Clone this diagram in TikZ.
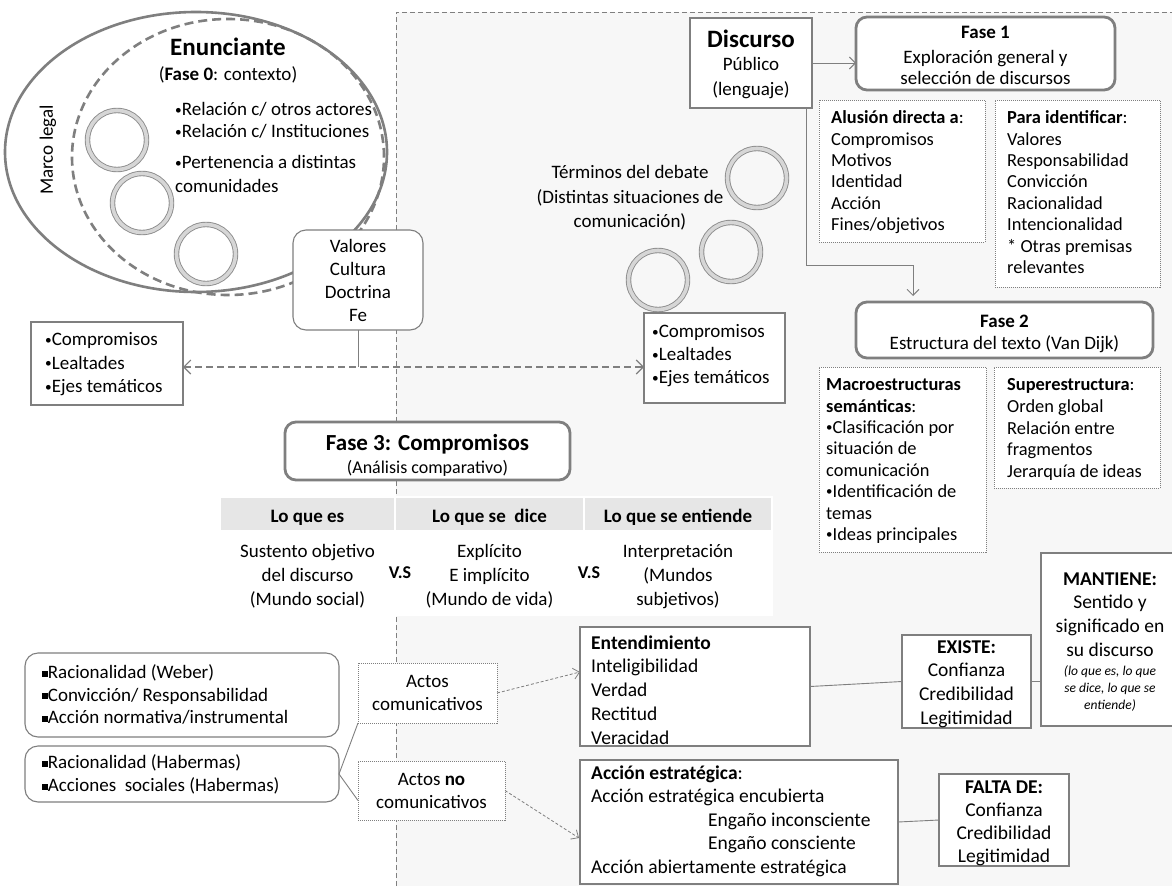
\documentclass[tikz,border=0pt]{standalone}
\usepackage{fontspec}
\usepackage{graphicx}
\setmainfont{Carlito}
\usetikzlibrary{arrows.meta,calc}
\definecolor{bd}{HTML}{7F7F7F}
\definecolor{rg}{HTML}{F7F7F7}
\definecolor{hd}{HTML}{E6E6E6}
\definecolor{ringc}{HTML}{D6D6D6}
\definecolor{ringd}{HTML}{8C8C8C}
\newcommand\fsz[2]{\fontsize{#1}{#2}\selectfont}
\newcommand\st{\rule{0pt}{0.8em}}
\newcommand\sqb{\rule[0.12em]{0.3em}{0.3em}}
\newcommand\bul{\raisebox{0.1em}{\scalebox{0.7}{•}}}
\newcommand\bx[6]{\node[#2, minimum width={(#5-#3)*1pt}, minimum height={(#6-#4)*1pt}] (#1) at ({(#3+#5)/2},{(#4+#6)/2}) {};}
\begin{document}
\begin{tikzpicture}[x=1pt,y=-1pt,
  boxplain/.style={draw=bd, line width=1.1pt, fill=white, inner sep=0, outer sep=0},
  boxround/.style={boxplain, rounded corners=13pt},
  boxdot/.style={draw=bd, line width=0.8pt, dash pattern=on 1pt off 1pt, fill=white, inner sep=0, outer sep=0},
  boxfase/.style={draw=bd, line width=2.8pt, rounded corners=11pt, fill=white, inner sep=0, outer sep=0},
  hdrcell/.style={fill=hd, draw=white, line width=1.5pt, inner sep=0, outer sep=0},
  bodycell/.style={fill=white, draw=white, line width=1.5pt, inner sep=0, outer sep=0},
  txl/.style={inner sep=0, anchor=north west, align=left},
  txc/.style={inner sep=0, anchor=north, align=center},
  ring/.style={circle, minimum size=59pt, inner sep=0, draw=ringd, line width=0.9pt, double=ringc, double distance=3.6pt},
  conn/.style={draw=bd, line width=0.9pt},
  arr/.style={conn, -{Straight Barb[length=6pt,width=12pt]}},
  darr/.style={draw=bd, line width=0.8pt, dash pattern=on 3pt off 2pt, -{Straight Barb[length=6pt,width=11pt]}},
  regdash/.style={draw=bd, line width=0.7pt, dash pattern=on 5pt off 3pt}
]
\useasboundingbox (0,0) rectangle (1172,886);
\fill[white] (0,0) rectangle (1172,886);
% region on the right
\fill[rg] (396,12) rectangle (1172,886);
\draw[regdash] (396,886) -- (396,12) -- (1172,12);

% ellipses
\draw[draw=bd, line width=2.6pt] (196,152) ellipse [x radius=191pt, y radius=140pt];
\draw[draw=bd, line width=2.6pt, dash pattern=on 9pt off 5pt] (228,157) ellipse [x radius=156pt, y radius=138pt];

% rings
\node[ring] (r1) at (117,140) {};
\node[ring] (r2) at (142,203) {};
\node[ring] (r3) at (206,254) {};
\node[ring] (r4) at (757,178) {};
\node[ring] (r5) at (731,252) {};
\node[ring] (r6) at (658,280) {};

% boxes
\bx{vl}{boxround}{293}{230}{423}{330}
\bx{lc}{boxplain}{31}{322}{183}{405}
\bx{rc}{boxplain}{644}{313}{785}{403}
\bx{ds}{boxplain}{690}{18}{812}{108}
\bx{f1}{boxfase}{856}{17}{1115}{90}
\bx{al}{boxdot}{819}{100}{985}{242}
\bx{pi}{boxdot}{995}{100}{1160}{287}
\bx{f2}{boxfase}{856}{302}{1153}{358}
\bx{ma}{boxdot}{819}{367}{986}{552}
\bx{su}{boxdot}{994}{367}{1160}{488}
\bx{f3}{boxfase}{285}{422}{570}{480}
\bx{h1}{hdrcell}{220}{497}{395}{531}
\bx{h2}{hdrcell}{395}{497}{584}{531}
\bx{h3}{hdrcell}{584}{497}{772}{531}
\bx{b1}{bodycell}{220}{531}{395}{615}
\bx{b2}{bodycell}{395}{531}{584}{615}
\bx{b3}{bodycell}{584}{531}{772}{615}
\bx{wb}{boxround}{25}{653}{339}{737}
\bx{hb}{boxround}{25}{746}{339}{802}
\bx{ac}{boxdot}{358}{663}{497}{723}
\bx{an}{boxdot}{358}{761}{505}{820}
\bx{en}{boxplain}{580}{627}{810}{746}
\bx{ae}{boxplain}{580}{760}{898}{884}
\bx{ex}{boxplain}{902}{635}{1031}{728}
\bx{mt}{boxplain}{1041}{553}{1179}{726}
\bx{fa}{boxplain}{939}{774}{1069}{866}

% connectors
\coordinate (mid) at (358,367);
\draw[conn] (vl.south) -- (mid);
\draw[draw=bd, line width=1.1pt, dash pattern=on 7pt off 4pt, {Straight Barb[length=7pt,width=14pt]}-{Straight Barb[length=7pt,width=14pt]}] (lc.east |- mid) -- (rc.west |- mid);
\draw[arr] (ds.east) -- (ds.east -| f1.west);
\draw[arr, shorten >=6pt] ($(ds.south east)+(-6,0)$) -- ++(0,157) -| ($(f2.north west)+(57,0)$);
\draw[conn] (hb.east) -- (ac.south west);
\draw[conn] (hb.east) -- ($(an.west)+(0,10)$);
\draw[darr] (ac.east) -- ($(en.north west)+(0,45)$);
\draw[darr] (an.east) -- ($(ae.north west)+(-1,78)$);
\draw[conn] (en.east) -- (ex.west);
\draw[conn] (ex.east) -- (ex.east -| mt.west);
\draw[conn] (ae.east) -- (fa.west);

% texts: Enunciante
\node[txc, font=\fsz{25}{30}\bfseries] (tEn) at (228,35.5) {\st Enunciante};
\node[txc, font=\fsz{19}{23.5}] (tF0) at (228,65.5) {\st(\textbf{Fase 0}: contexto)};
\node[txl, font=\fsz{19}{23.5}] (tEnb) at (175,100.5) {\st\bul Relación c/ otros actores\\[-1.5pt]\bul Relación c/ Instituciones\\[7.5pt]\bul Pertenencia a distintas\\[0.5pt]comunidades};
\node[font=\fsz{19}{23}, rotate=90, inner sep=0] (tML) at (48,150) {Marco legal};

\node[txc, font=\fsz{19}{23}] (tVl) at (358,237.5) {\st Valores\\Cultura\\Doctrina\\Fe};
\node[txl, font=\fsz{19}{23.5}] (tLc) at (45,330.5) {\st\bul Compromisos\\\bul Lealtades\\\bul Ejes temáticos};
\node[txl, font=\fsz{19}{23}] (tRc) at (652,322.5) {\st\bul Compromisos\\\bul Lealtades\\\bul Ejes temáticos};

% Discurso / Fase 1
\node[txc, font=\fsz{25}{30}\bfseries] (tDs) at (751,27.5) {\st Discurso};
\node[txc, font=\fsz{19}{25}] (tDs2) at (751,55.5) {\st Público\\(lenguaje)};
\node[txc, font=\fsz{19}{23}\bfseries] (tF1) at (985.5,23.5) {\st Fase 1};
\node[txc, font=\fsz{19}{21}] (tF1b) at (985.5,48.5) {\st Exploración general y\\selección de discursos};
\node[txl, font=\fsz{18.4}{21.4}] (tAl) at (831,108.8) {\st\textbf{Alusión directa a}:\\Compromisos\\Motivos\\Identidad\\Acción\\Fines/objetivos};
\node[txl, font=\fsz{18.4}{21.4}] (tPi) at (1007,108.8) {\st\textbf{Para identificar}:\\Valores\\Responsabilidad\\Convicción\\Racionalidad\\Intencionalidad\\* Otras premisas\\relevantes};

% Terminos
\node[txc, font=\fsz{19}{24.5}] (tTd) at (630,163.5) {\st Términos del debate\\(Distintas situaciones de\\comunicación)};

% Fase 2
\node[txc, font=\fsz{19}{23}\bfseries] (tF2) at (1004.5,312.5) {\st Fase 2};
\node[txc, font=\fsz{19}{23}] (tF2b) at (1004.5,334.5) {\st Estructura del texto (Van Dijk)};
\node[txl, font=\fsz{18.4}{21.4}] (tMa) at (826,375.8) {\st\textbf{Macroestructuras}\\\textbf{semánticas}:\\\bul Clasificación por\\situación de\\comunicación\\\bul Identificación de\\temas\\\bul Ideas principales};
\node[txl, font=\fsz{18.4}{21.75}] (tSu) at (1007,375.8) {\st\textbf{Superestructura}:\\Orden global\\Relación entre\\fragmentos\\Jerarquía de ideas};

% Fase 3 and table
\node[txc, font=\fsz{23}{27}\bfseries] (tF3) at (427.5,431.5) {\st Fase 3: Compromisos};
\node[txc, font=\fsz{18}{22}] (tF3b) at (427.5,459) {\st(Análisis comparativo)};
\node[anchor=base, inner sep=0, font=\fsz{19}{23}\bfseries] (th1) at (307.5,522.7) {Lo que es};
\node[anchor=base, inner sep=0, font=\fsz{19}{23}\bfseries] (th2) at (489.5,522.7) {Lo que se\ \ dice};
\node[anchor=base, inner sep=0, font=\fsz{19}{23}\bfseries] (th3) at (678,522.7) {Lo que se entiende};
\node[txc, font=\fsz{19}{23.8}] (tb1) at (307.5,542.5) {\st Sustento objetivo\\del discurso\\(Mundo social)};
\node[txc, font=\fsz{19}{23.8}] (tb2) at (489.5,542.5) {\st Explícito\\E implícito\\(Mundo de vida)};
\node[txc, font=\fsz{19}{23.8}] (tb3) at (678,542.5) {\st Interpretación\\(Mundos\\subjetivos)};
\node[anchor=base, inner sep=0, font=\fsz{18}{22}\bfseries] (vs1) at (400,578) {V.S};
\node[anchor=base, inner sep=0, font=\fsz{18}{22}\bfseries] (vs2) at (589,578) {V.S};

% bottom left
\node[txl, font=\fsz{19}{22.5}] (tWb) at (42,663.5) {\st\sqb Racionalidad (Weber)\\\sqb Convicción/ Responsabilidad\\\sqb Acción normativa/instrumental};
\node[txl, font=\fsz{19}{23}] (tHb) at (42,753.5) {\st\sqb Racionalidad (Habermas)\\\sqb Acciones\ \ sociales (Habermas)};
\node[txc, font=\fsz{19}{23}] (tAc) at (427.5,672.5) {\st Actos\\comunicativos};
\node[txc, font=\fsz{19}{23}] (tAn) at (431.5,770.5) {\st Actos \textbf{no}\\comunicativos};

% bottom right
\node[txl, font=\fsz{19.5}{23.75}] (tEnt) at (591,633.25) {\st\textbf{Entendimiento}\\Inteligibilidad\\Verdad\\Rectitud\\Veracidad};
\node[txl, font=\fsz{19.5}{23.5}] (tAe) at (591,763.25) {\st\textbf{Acción estratégica}:\\Acción estratégica encubierta\\\hspace*{117pt}Engaño inconsciente\\\hspace*{117pt}Engaño consciente\\Acción abiertamente estratégica};
\node[txc, font=\fsz{19.5}{23.7}] (tEx) at (966.5,637.25) {\st\textbf{EXISTE:}\\Confianza\\Credibilidad\\Legitimidad};
\node[txc, font=\fsz{19.5}{23.7}] (tMt) at (1110,569.25) {\st\textbf{MANTIENE:}\\Sentido y\\significado en\\su discurso};
\node[txc, font=\fsz{13.5}{17}\itshape] (tMt2) at (1110,664.25) {\st(lo que es, lo que\\se dice, lo que se\\entiende)};
\node[txc, font=\fsz{19.5}{23}] (tFa) at (1004,777.25) {\st\textbf{FALTA DE:}\\Confianza\\Credibilidad\\Legitimidad};
\end{tikzpicture}
\end{document}
